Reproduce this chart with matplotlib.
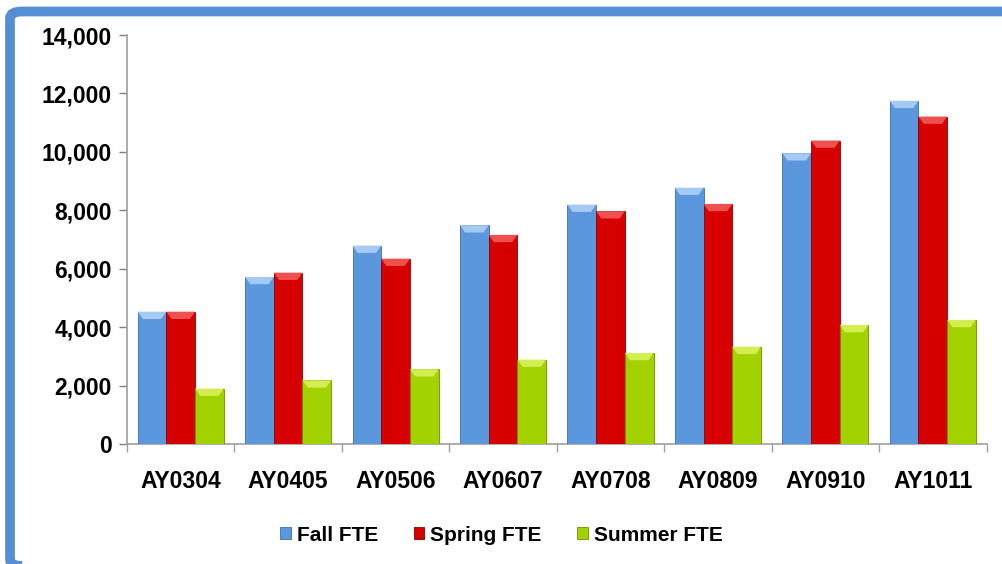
import matplotlib.pyplot as plt
import numpy as np
from matplotlib.patches import FancyBboxPatch, Polygon

plt.rcParams['font.family'] = ['Liberation Sans', 'DejaVu Sans']

# Data
years = ['AY0304', 'AY0405', 'AY0506', 'AY0607', 'AY0708', 'AY0809', 'AY0910', 'AY1011']
fall = [4530, 5720, 6790, 7490, 8195, 8775, 9955, 11750]
spring = [4530, 5865, 6345, 7160, 7970, 8220, 10390, 11210]
summer = [1895, 2180, 2560, 2890, 3115, 3330, 4075, 4250]

series = [('Fall FTE', fall, '#5B97DC', '#A4C9F2', '#3F6FA8'),
          ('Spring FTE', spring, '#D60000', '#EE5050', '#8E0000'),
          ('Summer FTE', summer, '#A2D200', '#D3EE50', '#6E8E00')]

fig = plt.figure(figsize=(10.03, 5.64), dpi=100)
ax = fig.add_axes([0.1266, 0.2128, 0.857, 0.725])

x = np.arange(len(years))
bar_width = 0.267
offsets = [-bar_width, 0, bar_width]

handles = []
for (name, vals, col, light, dark), off in zip(series, offsets):
    bars = ax.bar(x + off, vals, width=bar_width, color=col, edgecolor=dark,
                  linewidth=0.6, label=name, zorder=3)
    handles.append(bars)
    # bevel highlight on top of each bar
    for b in bars:
        bx, bw, bh = b.get_x(), b.get_width(), b.get_height()
        inset = bw * 0.18
        depth = 250
        top = Polygon([(bx, bh), (bx + bw, bh), (bx + bw - inset, bh - depth),
                       (bx + inset, bh - depth)], closed=True,
                      facecolor=light, edgecolor='none', zorder=4)
        ax.add_patch(top)

ax.set_xlim(-0.5, len(years) - 0.5)
ax.set_ylim(0, 14000)
ax.set_yticks(np.arange(0, 14001, 2000))
ax.set_yticklabels([f'{v:,}' for v in range(0, 14001, 2000)])

ax.set_xticks(x)
ax.set_xticklabels(years)
ax.set_xticks(np.arange(-0.5, len(years)), minor=True)
ax.tick_params(axis='x', which='major', length=0, pad=19)
ax.tick_params(axis='x', which='minor', length=6, color='#A0A0A0', width=1)
ax.tick_params(axis='y', length=6, color='#808080', width=1, pad=5)

for lab in ax.get_xticklabels() + ax.get_yticklabels():
    lab.set_fontsize(16.5)
    lab.set_fontweight('bold')

for s in ['top', 'right']:
    ax.spines[s].set_visible(False)
for s in ['left', 'bottom']:
    ax.spines[s].set_color('#A0A0A0')
    ax.spines[s].set_linewidth(1.2)

fig.legend(handles=handles, loc='center', bbox_to_anchor=(0.5, 0.051), ncol=3,
           frameon=False, handlelength=0.5, handleheight=0.5, handletextpad=0.3,
           columnspacing=1.7, prop={'weight': 'bold', 'size': 15})

# blue frame around the chart area
frame = FancyBboxPatch((10 / 1003, -2 / 564), 1.05, (564 - 11.5 + 2) / 564,
                       boxstyle='round,pad=0,rounding_size=0.012',
                       transform=fig.transFigure, facecolor='none',
                       edgecolor='#558ED5', linewidth=7, clip_on=False)
fig.patches.append(frame)

fig.savefig('out.png', dpi=100)
